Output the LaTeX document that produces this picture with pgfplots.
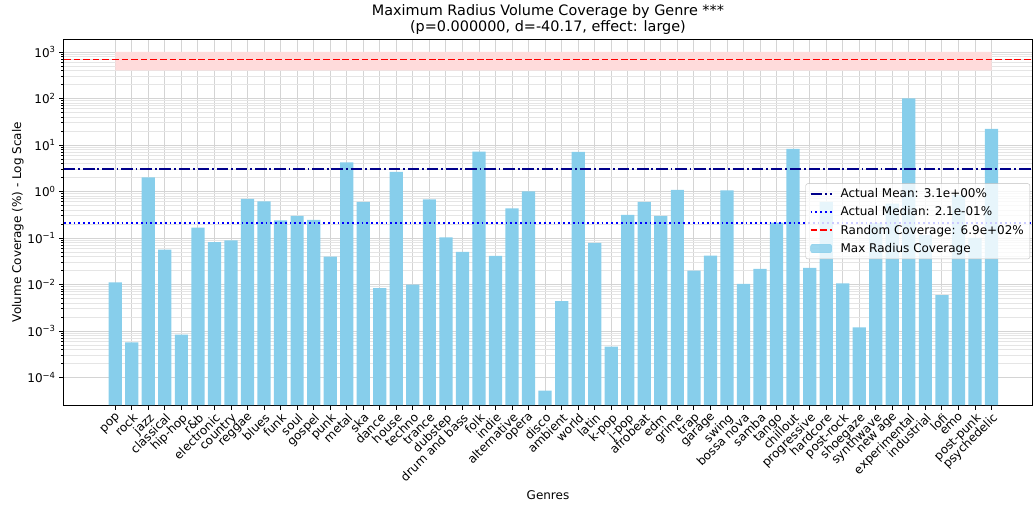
\documentclass[border=0pt]{standalone}
\usepackage{pgfplots}
\pgfplotsset{compat=1.18}
\usepackage{fontspec}
\setmainfont{DejaVu Sans}
\definecolor{skyblue}{RGB}{135,206,235}
\definecolor{darkblue}{RGB}{0,0,139}
\definecolor{myred}{RGB}{255,0,0}
\definecolor{spanpink}{RGB}{255,219,219}
\begin{document}
\begin{tikzpicture}
\useasboundingbox (-64bp,-100bp) rectangle (970bp,405bp);
\begin{axis}[
 at={(0,0)}, anchor=south west,
 scale only axis, width=968bp, height=366bp,
 ymode=log, log origin=infty,
 xmin=-3.1, xmax=55.45, ymin=2.56e-5, ymax=1900,
 xtick={0,...,53},
 xticklabels={pop,rock,jazz,classical,hip-hop,r\&b,electronic,country,reggae,blues,funk,soul,gospel,punk,metal,ska,dance,house,techno,trance,dubstep,drum and bass,folk,indie,alternative,opera,disco,ambient,world,latin,k-pop,j-pop,afrobeat,edm,grime,trap,garage,swing,bossa nova,samba,tango,chillout,progressive,hardcore,post-rock,shoegaze,synthwave,new age,experimental,industrial,lofi,emo,post-punk,psychedelic},
 xticklabel style={rotate=45, anchor=north east, inner sep=1.5bp, font=\fontsize{12bp}{14bp}\selectfont},
 ytick={1e-4,1e-3,1e-2,1e-1,1,10,100,1000},
 yticklabels={10\textsuperscript{−4},10\textsuperscript{−3},10\textsuperscript{−2},10\textsuperscript{−1},10\textsuperscript{0},10\textsuperscript{1},10\textsuperscript{2},10\textsuperscript{3}},
 yticklabel style={font=\fontsize{12bp}{14bp}\selectfont},
 xtick pos=bottom, ytick pos=left, tick align=outside,
 major tick length=4.9bp, minor tick length=2.8bp,
 every tick/.style={black, line width=0.9bp},
 axis line style={line width=1bp},
 xmajorgrids=true, ymajorgrids=true, yminorgrids=true,
 major grid style={black!17, line width=0.9bp},
 minor grid style={black!10, line width=0.7bp},
 xlabel={Genres}, ylabel={Volume Coverage (\%) - Log Scale},
 label style={font=\fontsize{12bp}{14bp}\selectfont},
 xlabel style={yshift=-3bp},
 ylabel style={yshift=-3bp},
 title={Maximum Radius Volume Coverage by Genre ***\\(p=0.000000, d=-40.17, effect: large)},
 title style={align=center, font=\fontsize{14.4bp}{16.5bp}\selectfont, yshift=-5bp},
 legend cell align=left,
 legend style={at={(0.998,0.502)}, anchor=east, fill=white, fill opacity=0.8, draw opacity=1, text opacity=1, draw=black!25, rounded corners=2bp, font=\fontsize{12bp}{14bp}\selectfont, inner xsep=4bp, inner ysep=3bp, row sep=3.6bp, column sep=6bp},
 legend image code/.code={\draw[#1] (0bp,0bp) -- (21bp,0bp);},
]
\addplot[fill=spanpink, draw=none, forget plot] coordinates {(0,400) (53,400) (53,1000) (0,1000) (0,400)};
\addplot[ybar, bar width=0.8, fill=skyblue, draw=none, forget plot] coordinates {
(0,0.0111) (1,0.00057) (2,2.02) (3,0.056) (4,0.00083) (5,0.167) (6,0.081) (7,0.089) (8,0.69) (9,0.615)
(10,0.24) (11,0.297) (12,0.244) (13,0.0397) (14,4.24) (15,0.594) (16,0.0084) (17,2.63) (18,0.0099) (19,0.68)
(20,0.103) (21,0.050) (22,7.19) (23,0.041) (24,0.435) (25,1.01) (26,0.000052) (27,0.0044) (28,7.08) (29,0.078)
(30,0.00046) (31,0.313) (32,0.594) (33,0.297) (34,1.08) (35,0.0198) (36,0.0417) (37,1.06) (38,0.0103) (39,0.0216)
(40,0.214) (41,8.2) (42,0.0227) (43,0.6) (44,0.0106) (45,0.0012) (46,0.21) (47,0.55) (48,101) (49,0.116)
(50,0.0059) (51,0.85) (52,0.1) (53,22.1)};
\addplot[draw=darkblue, line width=1.8bp, dash pattern=on 11.5bp off 2.9bp on 1.8bp off 2.9bp] coordinates {(-3.1,3.1) (55.45,3.1)};
\addlegendentry{Actual Mean: 3.1e+00\%}
\addplot[draw=blue, line width=1.8bp, dash pattern=on 1.8bp off 3bp] coordinates {(-3.1,0.21) (55.45,0.21)};
\addlegendentry{Actual Median: 2.1e-01\%}
\addplot[color=red, line width=1.8bp, line cap=butt, dash pattern=on 6.7bp off 2.9bp] table[row sep=\\] {x y\\ -3.1 690\\ 55.45 690\\};
\addlegendentry{Random Coverage: 6.9e+02\%}
\addlegendimage{legend image code/.code={\fill[skyblue] (0bp,-4.2bp) rectangle (21bp,4.2bp);}}
\addlegendentry{Max Radius Coverage}
\end{axis}
\end{tikzpicture}
\end{document}
